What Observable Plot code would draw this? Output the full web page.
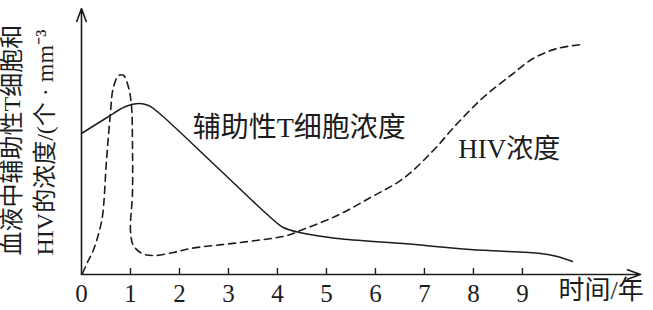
<!DOCTYPE html>
<html>
<head>
<meta charset="utf-8">
<script src="https://cdn.jsdelivr.net/npm/d3@7"></script>
<script src="https://cdn.jsdelivr.net/npm/@observablehq/plot@0.6"></script>
<style>
  html, body { margin: 0; padding: 0; background: #fff; }
  svg { display: block; }
</style>
</head>
<body>
<div id="chart"></div>
<script>
// ---- data (years, concentration in arbitrary units) ----
const tYears  = [0, 0.49, 0.90, 1.16, 1.37, 1.57, 2.73, 3.86, 4.12, 4.45, 5.22, 6.57, 7.94, 9.37, 9.71, 10.02];
const tValues = [141, 156, 168, 171, 169, 162, 109, 57, 47, 42, 36, 31, 25, 21, 18, 13];

const hivYears  = [0.02, 0.12, 0.24, 0.35, 0.43, 0.51, 0.59, 0.65, 0.76, 0.86, 0.96, 1.02, 1.04, 1.04, 1.00, 1.06, 1.24, 1.47, 1.88, 2.22, 3.24, 4.20, 4.47, 5.22, 5.90, 6.57, 7.18, 7.67, 8.20, 8.76, 9.22, 9.71, 10.22];
const hivValues = [1, 12, 24, 41, 59, 114, 161, 187, 199, 199, 187, 169, 131, 81, 44, 29, 21, 19, 22, 26, 32, 39, 44, 59, 77, 96, 124, 151, 177, 199, 216, 226, 230];

const tickLabels = [0, 1, 2, 3, 4, 5, 6, 7, 8, 9];
const xLabel = "时间/年";
const yLabel1 = "血液中辅助性T细胞和";
const yLabel2 = "HIV的浓度/(个 · mm⁻³";
const tLabel = "辅助性T细胞浓度";
const hivLabel = "HIV浓度";

const xMax = 11.41;
const yMax = 266;

const tData = tYears.map((x, i) => ({x, y: tValues[i]}));
const hivData = hivYears.map((x, i) => ({x, y: hivValues[i]}));
const axes = [
  {x1: 0, y1: 0, x2: xMax, y2: 0},
  {x1: 0, y1: 0, x2: 0, y2: yMax}
];

const font = "'Liberation Serif', 'Noto Sans CJK SC', serif";
const ink = "#1c1c1c";

const chart = Plot.plot({
  width: 653,
  height: 310,
  marginLeft: 81,
  marginRight: 13,
  marginTop: 8,
  marginBottom: 36,
  x: {domain: [0, xMax], axis: null},
  y: {domain: [0, yMax], axis: null},
  style: {fontFamily: font, color: ink, background: "#fff"},
  marks: [
    Plot.arrow(axes, {x1: "x1", y1: "y1", x2: "x2", y2: "y2", stroke: ink, strokeWidth: 1.6, headLength: 13, headAngle: 40}),
    Plot.ruleX(tickLabels.filter(d => d > 0), {x: d => d, y1: 0, y2: 6, stroke: ink, strokeWidth: 1.4}),
    Plot.text(tickLabels, {x: d => d, y: 0, text: d => String(d), dy: 19, fontSize: 25, fill: ink}),
    Plot.line(tData, {x: "x", y: "y", curve: "catmull-rom", stroke: ink, strokeWidth: 1.5}),
    Plot.line(hivData, {x: "x", y: "y", curve: "catmull-rom", stroke: ink, strokeWidth: 1.6, strokeDasharray: "7,5"}),
    Plot.text([tLabel], {x: 2.27, y: 146, text: d => d, textAnchor: "start", fontSize: 28, fill: ink}),
    Plot.text([hivLabel], {x: 7.69, y: 125, text: d => d, textAnchor: "start", fontSize: 27, fill: ink}),
    Plot.text([xLabel], {frameAnchor: "bottom-right", text: d => d, textAnchor: "start", dx: -82, dy: 24, fontSize: 26, fill: ink}),
    Plot.text([yLabel1], {frameAnchor: "bottom-left", text: d => d, rotate: -90, textAnchor: "start", dx: -62, dy: -19, fontSize: 24, fill: ink}),
    Plot.text([yLabel2], {frameAnchor: "bottom-left", text: d => d, rotate: -90, textAnchor: "start", dx: -29, dy: -19, fontSize: 24, fill: ink})
  ]
});
document.getElementById("chart").appendChild(chart);
</script>
</body>
</html>
